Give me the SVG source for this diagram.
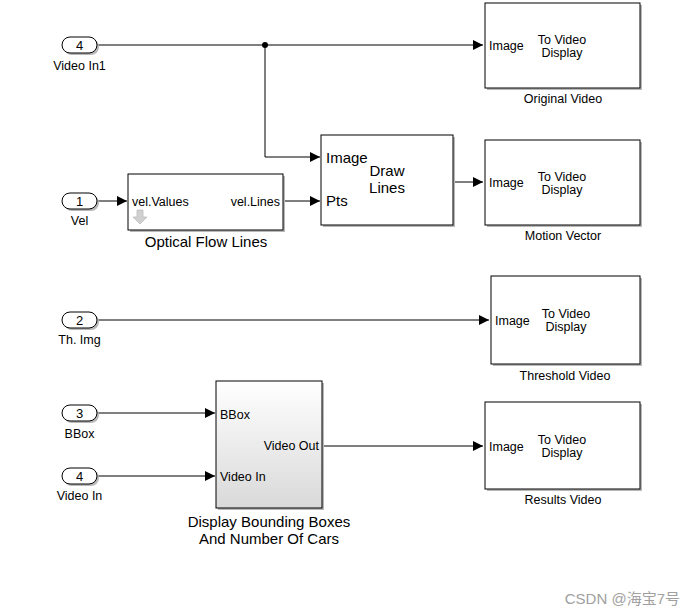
<svg xmlns="http://www.w3.org/2000/svg" width="690" height="616" viewBox="0 0 690 616">
<defs>
<marker id="arr" viewBox="0 0 10 10" refX="10" refY="5" markerWidth="10" markerHeight="10" markerUnits="userSpaceOnUse" orient="auto">
<path d="M0,0 L10,5 L0,10 Z" fill="#000"/>
</marker>
<linearGradient id="grad" x1="0" y1="0" x2="0" y2="1">
<stop offset="0" stop-color="#ffffff"/>
<stop offset="1" stop-color="#d9d9d9"/>
</linearGradient>
</defs>
<style>
text{font-family:"Liberation Sans",Arial,sans-serif;fill:#000}
.blk{fill:#fff;stroke:#000;stroke-width:1}
.shd{fill:#b8b8b8}
.port{font-size:12.5px}
.lbl{font-size:12.5px;text-anchor:middle}
.big{font-size:15px}
.num{font-size:13px;text-anchor:middle}
.ln{fill:none;stroke:#000;stroke-width:1}
</style>
<rect width="690" height="616" fill="#fff"/>

<g id="connectors">
<path class="ln" d="M97,45 H483" marker-end="url(#arr)"/>
<circle cx="265" cy="45" r="3" fill="#000"/>
<path class="ln" d="M265,45 V157 H320" marker-end="url(#arr)"/>
<path class="ln" d="M97,201 H127" marker-end="url(#arr)"/>
<path class="ln" d="M283,201 H320" marker-end="url(#arr)"/>
<path class="ln" d="M453,182 H483" marker-end="url(#arr)"/>
<path class="ln" d="M97,320 H489" marker-end="url(#arr)"/>
<path class="ln" d="M97,413 H215" marker-end="url(#arr)"/>
<path class="ln" d="M97,476 H215" marker-end="url(#arr)"/>
<path class="ln" d="M322,446 H483" marker-end="url(#arr)"/>
</g>

<g id="in_video_in1">
<rect x="64" y="39" width="35" height="16" rx="8" class="shd"/>
<rect x="62" y="37" width="35" height="16" rx="8" class="blk"/>
<text x="79.5" y="50" class="num">4</text>
<text x="79.5" y="70" class="lbl">Video In1</text>
</g>

<g id="in_vel">
<rect x="64" y="195" width="35" height="16" rx="8" class="shd"/>
<rect x="62" y="193" width="35" height="16" rx="8" class="blk"/>
<text x="79.5" y="206" class="num">1</text>
<text x="79.5" y="225" class="lbl">Vel</text>
</g>

<g id="in_th_img">
<rect x="64" y="314" width="35" height="16" rx="8" class="shd"/>
<rect x="62" y="312" width="35" height="16" rx="8" class="blk"/>
<text x="79.5" y="325" class="num">2</text>
<text x="79.5" y="344" class="lbl">Th. Img</text>
</g>

<g id="in_bbox">
<rect x="64" y="407" width="35" height="16" rx="8" class="shd"/>
<rect x="62" y="405" width="35" height="16" rx="8" class="blk"/>
<text x="79.5" y="418" class="num">3</text>
<text x="79.5" y="438" class="lbl">BBox</text>
</g>

<g id="in_video_in">
<rect x="64" y="470" width="35" height="16" rx="8" class="shd"/>
<rect x="62" y="468" width="35" height="16" rx="8" class="blk"/>
<text x="79.5" y="481" class="num">4</text>
<text x="79.5" y="500" class="lbl">Video In</text>
</g>

<g id="optical_flow_lines">
<rect x="130" y="176" width="155" height="56" class="shd"/>
<rect x="128" y="174" width="155" height="56" class="blk"/>
<text x="132" y="206" class="port">vel.Values</text>
<text x="280" y="206" class="port" text-anchor="end">vel.Lines</text>
<path d="M137,210 H143 V217 H147 L140,224 L133,217 H137 Z" fill="#d0d0d0" stroke="#bdbdbd" stroke-width="0.8"/>
<text x="206" y="247" class="big" text-anchor="middle">Optical Flow Lines</text>
</g>

<g id="draw_lines">
<rect x="323" y="137" width="132" height="90" class="shd"/>
<rect x="321" y="135" width="132" height="90" class="blk"/>
<text x="326" y="163" class="big">Image</text>
<text x="326" y="206" class="big">Pts</text>
<text x="387" y="176" class="big" text-anchor="middle">Draw</text>
<text x="387" y="193" class="big" text-anchor="middle">Lines</text>
</g>

<g id="original_video">
<rect x="487" y="5" width="155" height="85" class="shd"/>
<rect x="485" y="3" width="155" height="85" class="blk"/>
<text x="489" y="50" class="port">Image</text>
<text x="562" y="44" class="port" text-anchor="middle">To Video</text>
<text x="562" y="56.5" class="port" text-anchor="middle">Display</text>
<text x="563" y="103" class="lbl">Original Video</text>
</g>

<g id="motion_vector">
<rect x="487" y="142" width="155" height="85" class="shd"/>
<rect x="485" y="140" width="155" height="85" class="blk"/>
<text x="489" y="187" class="port">Image</text>
<text x="562" y="181" class="port" text-anchor="middle">To Video</text>
<text x="562" y="193.5" class="port" text-anchor="middle">Display</text>
<text x="563" y="240" class="lbl">Motion Vector</text>
</g>

<g id="threshold_video">
<rect x="493" y="278" width="149" height="88" class="shd"/>
<rect x="491" y="276" width="149" height="88" class="blk"/>
<text x="495" y="325" class="port">Image</text>
<text x="566" y="318" class="port" text-anchor="middle">To Video</text>
<text x="566" y="330.5" class="port" text-anchor="middle">Display</text>
<text x="565" y="380" class="lbl">Threshold Video</text>
</g>

<g id="display_bounding_boxes">
<rect x="218" y="383" width="106" height="127" class="shd"/>
<rect x="216" y="381" width="106" height="127" fill="url(#grad)" stroke="#000" stroke-width="1"/>
<text x="220" y="419" class="port">BBox</text>
<text x="319" y="450" class="port" text-anchor="end">Video Out</text>
<text x="220" y="481" class="port">Video In</text>
<text x="269" y="527" class="big" text-anchor="middle">Display Bounding Boxes</text>
<text x="269" y="544" class="big" text-anchor="middle">And Number Of Cars</text>
</g>

<g id="results_video">
<rect x="487" y="404" width="155" height="87" class="shd"/>
<rect x="485" y="402" width="155" height="87" class="blk"/>
<text x="489" y="451" class="port">Image</text>
<text x="562" y="444" class="port" text-anchor="middle">To Video</text>
<text x="562" y="456.5" class="port" text-anchor="middle">Display</text>
<text x="563" y="504" class="lbl">Results Video</text>
</g>

<text x="680" y="604" text-anchor="end" style="font-size:15px;fill:#a0a0a0;font-family:'Liberation Sans','Noto Sans CJK SC',sans-serif">CSDN @海宝7号</text>
</svg>
